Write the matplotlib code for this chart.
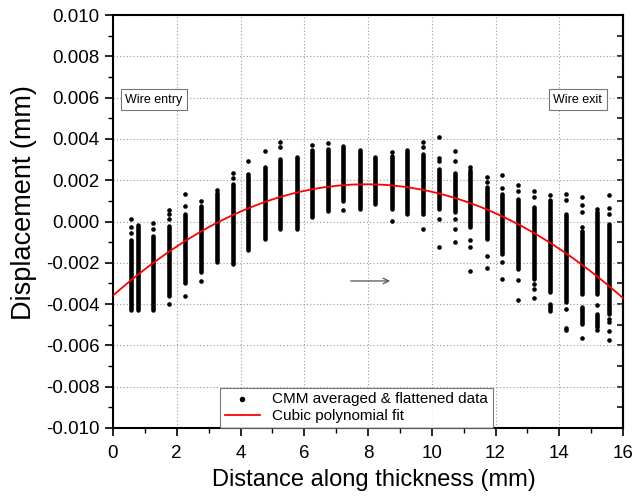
import numpy as np
import matplotlib
matplotlib.use("Agg")
import matplotlib.pyplot as plt

plt.rcParams['font.family'] = ['Liberation Sans', 'DejaVu Sans']
plt.rcParams['axes.unicode_minus'] = False

# displacement values in units of 1e-3 mm
# dense runs of overlapping points: column position, low end, high end
seg_x = [0.56, 0.77, 1.25, 1.76, 2.26, 2.75, 3.25, 3.75, 4.25, 4.77, 5.24, 5.76,
         6.23, 6.74, 7.23, 7.75, 8.22, 8.74, 9.23, 9.72, 10.23, 10.73, 11.2, 11.72,
         12.19, 12.72, 13.22, 13.71, 13.71, 14.21, 14.7, 14.7, 15.17, 15.17, 15.57]
seg_lo = [-4.3, -4.3, -4.3, -3.6, -3.0, -2.45, -1.97, -2.05, -1.4, -0.84, -0.35, -0.35,
          0.2, 0.53, 1.0, 0.6, 0.85, 0.61, 0.37, 0.45, 0.61, 0.45, -0.27, -0.84,
          -1.56, -2.29, -2.77, -3.42, -4.31, -3.9, -3.5, -4.95, -3.5, -5.1, -4.47]
seg_hi = [-0.92, -0.15, -0.68, -0.2, 0.37, 0.74, 1.4, 1.82, 2.3, 2.63, 3.03, 3.11,
          3.44, 3.5, 3.68, 3.44, 3.11, 3.19, 3.48, 3.27, 2.55, 2.34, 2.47, 1.66,
          1.34, 1.1, 0.69, 1.02, -3.98, 0.37, -0.44, -4.15, 0.45, -4.47, -0.11]

# isolated points
pt_x = [0.56, 0.56, 0.56, 1.25, 1.25, 1.76, 1.76, 1.76, 1.76, 2.26, 2.26, 2.26,
        2.75, 2.75, 3.25, 3.75, 3.75, 4.25, 4.77, 5.24, 5.24, 6.23, 6.74, 7.23,
        8.74, 8.74, 9.72, 9.72, 9.72, 9.72, 10.23, 10.23, 10.23, 10.23, 10.23,
        10.73, 10.73, 10.73, 10.73, 10.73, 11.2, 11.2, 11.2, 11.2, 11.72, 11.72, 11.72, 11.72,
        12.19, 12.19, 12.19, 12.19, 12.72, 12.72, 12.72, 12.72, 13.22, 13.22, 13.22, 13.22, 13.22,
        13.71, 14.21, 14.21, 14.21, 14.21, 14.21, 14.7, 14.7, 14.7, 14.7, 14.7,
        15.17, 15.17, 15.17, 15.57, 15.57, 15.57, 15.57, 15.57, 15.57, 15.57]
pt_y = [0.13, -0.27, -0.56, -0.08, -0.35, 0.58, 0.37, 0.13, -4.0, 1.32, 0.77, -3.6,
        0.97, -2.9, 1.53, 2.34, 2.1, 2.95, 3.39, 3.84, 3.6, 3.71, 3.8, 0.56,
        3.35, 0.02, 3.84, 3.6, 0.34, -0.35, 4.08, 3.08, 2.92, 0.13, -1.24,
        3.39, 2.92, 0.13, -0.35, -0.97, 2.63, -0.89, -1.24, -2.42, 2.15, 1.9, -1.68, -2.26,
        2.27, 1.63, -1.94, -2.77, 1.77, 1.5, -2.82, -3.82, 1.47, 1.21, -3.02, -3.29, -3.71,
        1.29, 1.34, 1.06, -4.23, -5.16, -5.27, 1.18, 0.81, 0.48, -0.27, -5.65,
        0.61, -4.06, -5.27, 1.26, 0.66, 0.37, -4.71, -4.87, -5.32, -5.76]

# points
fit_x = [0.0, 1.25, 2.26, 3.25, 4.25, 5.24, 6.23, 7.23, 8.22, 9.23, 10.23, 11.2, 12.19, 13.22, 14.21, 15.17, 16.0]
fit_y = [-3.56, -2.05, -0.92, -0.11, 0.61, 1.18, 1.58, 1.79, 1.82, 1.63, 1.37, 0.85, 0.37, -0.6, -1.56, -2.77, -3.6]

scale = 1e-3

fig = plt.figure(figsize=(6.44, 5.01), dpi=100)
ax = fig.add_axes([113/644, 73/501, 510/644, 413/501])

ax.grid(True, which='major', color='#9a9a9a', linestyle=(0, (1, 2)), linewidth=0.8)
ax.set_axisbelow(True)

ax.vlines(seg_x, np.array(seg_lo)*scale, np.array(seg_hi)*scale, color='black',
          linewidth=3.3, capstyle='round', zorder=3)
ax.scatter(pt_x, np.array(pt_y)*scale, s=11, color='black', linewidths=0, zorder=3,
           label='CMM averaged & flattened data')

cf = np.polyfit(fit_x, np.array(fit_y)*scale, 3)
xx = np.linspace(0, 16, 300)
ax.plot(xx, np.polyval(cf, xx), color='red', linewidth=1.3, zorder=4, label='Cubic polynomial fit')

ax.annotate('', xy=(8.78, -0.00288), xytext=(7.37, -0.00288),
            arrowprops=dict(arrowstyle='->', color='#555555', lw=0.9), zorder=5)

bbox = dict(boxstyle='square,pad=0.35', facecolor='white', edgecolor='#777777', linewidth=0.8)
ax.text(0.38, 0.0059, 'Wire entry', fontsize=9, va='center', ha='left', bbox=bbox, zorder=6)
ax.text(15.35, 0.0059, 'Wire exit', fontsize=9, va='center', ha='right', bbox=bbox, zorder=6)

ax.set_xlim(0, 16)
ax.set_ylim(-0.010, 0.010)
ax.set_xticks(np.arange(0, 17, 2))
ax.set_xticks(np.arange(0, 17, 1), minor=True)
ax.set_yticks(np.arange(-0.010, 0.0101, 0.002))
ax.set_yticks(np.arange(-0.010, 0.0101, 0.001), minor=True)
ax.yaxis.set_major_formatter(matplotlib.ticker.FormatStrFormatter('%.3f'))

for s in ax.spines.values():
    s.set_linewidth(1.5)
ax.tick_params(which='major', direction='out', length=6, width=1.2, labelsize=13.5)
ax.tick_params(which='minor', direction='out', length=3.5, width=1.0)
ax.tick_params(axis='x', pad=6)

# inward ticks on the right-hand axis, no labels
ay = ax.secondary_yaxis('right')
ay.set_yticks(np.arange(-0.010, 0.0101, 0.002))
ay.set_yticks(np.arange(-0.010, 0.0101, 0.001), minor=True)
ay.tick_params(which='both', direction='in', length=4, width=1.1, labelright=False)
ay.spines['right'].set_linewidth(1.5)

ax.set_xlabel('Distance along thickness (mm)', fontsize=17)
ax.set_ylabel('Displacement (mm)', fontsize=19.5)
ax.xaxis.set_label_coords(0.512, -0.100)
ax.yaxis.set_label_coords(-0.149, 0.547)

leg = ax.legend(loc='lower center', bbox_to_anchor=(0.4775, 0.0), borderaxespad=0,
                fontsize=11, frameon=True, fancybox=False, edgecolor='#555555',
                handlelength=2.3, markerscale=1.2, borderpad=0.3, labelspacing=0.2)
leg.get_frame().set_linewidth(0.8)

fig.savefig('out.png', dpi=100)
